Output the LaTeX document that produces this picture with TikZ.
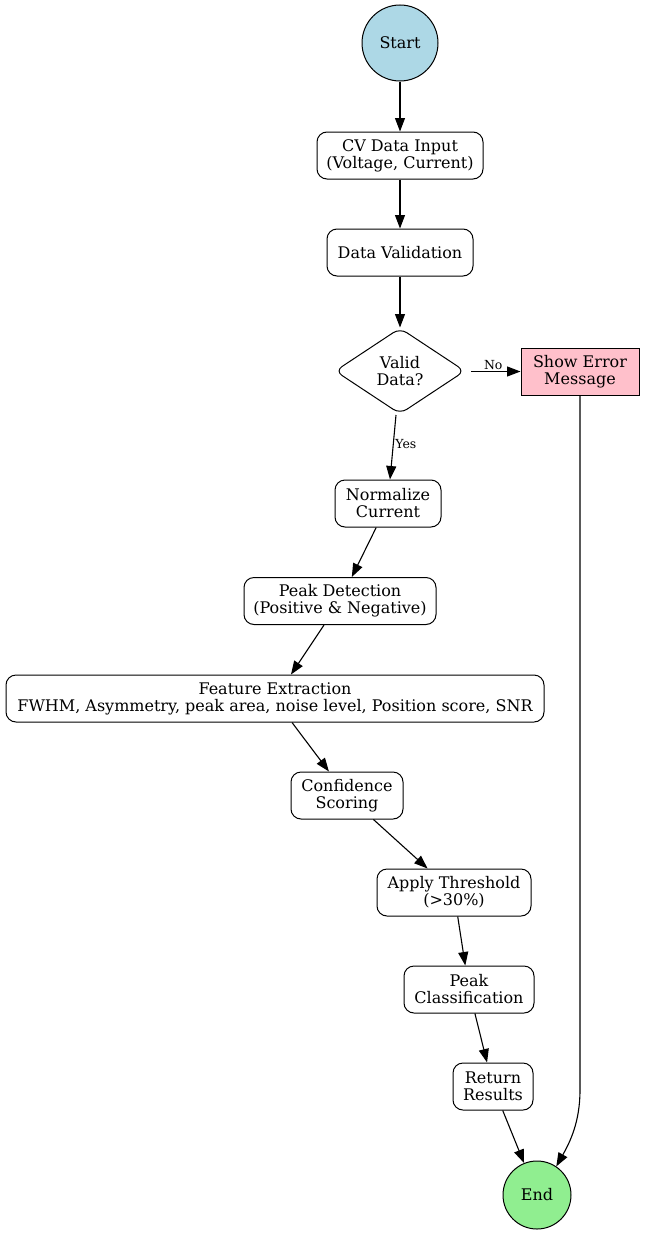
\documentclass[tikz,border=0pt]{standalone}
\usepackage{fontspec}
\setmainfont{DejaVu Serif}
\usetikzlibrary{shapes.geometric,arrows.meta}
\definecolor{startblue}{HTML}{ADD8E6}
\definecolor{endgreen}{HTML}{90EE90}
\definecolor{errpink}{HTML}{FFC0CB}
\tikzset{
  nfont/.style={font=\fontsize{16}{17}\selectfont},
  box/.style={draw, rounded corners=10pt, align=center, inner sep=0pt, line width=1pt, minimum height=47pt, nfont},
  term/.style={draw, circle, inner sep=0pt, line width=1pt, nfont},
  decision/.style={draw, diamond, rounded corners=8pt, align=center, inner sep=0pt, line width=1pt, minimum width=130pt, minimum height=86pt, nfont},
  errbox/.style={draw, fill=errpink, align=center, inner sep=0pt, line width=1pt, minimum width=118pt, minimum height=47pt, nfont},
  arr/.style={-{Triangle[length=13.5pt,width=10pt]}, line width=1.1pt},
  elabel/.style={font=\fontsize{12.5}{14}\selectfont, inner sep=1.5pt}
}
\begin{document}
\begin{tikzpicture}[x=1pt,y=-1pt]
\useasboundingbox (0,0) rectangle (645,1234);
\node[term, fill=startblue, minimum size=76pt] (start) at (400,43) {Start};
\node[box, minimum width=166pt] (cv) at (400,155.5) {CV Data Input\\(Voltage, Current)};
\node[box, minimum width=146pt] (dv) at (400,252.5) {Data Validation};
\node[decision] (valid) at (400,371) {Valid\\Data?};
\node[errbox] (err) at (580,371.5) {Show Error\\Message};
\node[box, minimum width=106pt] (norm) at (388,503.5) {Normalize\\Current};
\node[box, minimum width=192pt] (pd) at (340,601) {Peak Detection\\(Positive \& Negative)};
\node[box, minimum width=538pt] (fe) at (275,698.5) {Feature Extraction\\FWHM, Asymmetry, peak area, noise level, Position score, SNR};
\node[box, minimum width=112pt] (cs) at (347,795.5) {Confidence\\Scoring};
\node[box, minimum width=154pt] (at) at (454,892.5) {Apply Threshold\\(>30\%)};
\node[box, minimum width=130pt] (pc) at (469,989.5) {Peak\\Classification};
\node[box, minimum width=80pt] (rr) at (493,1086.5) {Return\\Results};
\node[term, fill=endgreen, minimum size=68pt] (end) at (537,1195) {End};
\coordinate (nostart) at (471,371.5);
\coordinate (yesstart) at (396,415);
\coordinate (bend) at (580,1090);

\draw[arr] (start) -- (cv);
\draw[arr] (cv) -- (dv);
\draw[arr] (dv) -- (valid);
\draw[arr] (nostart) -- node[elabel, above, pos=0.45] {No} (err.west);
\draw[arr] (yesstart) -- node[elabel, right, pos=0.45] {Yes} (norm.north -| 390,0);
\draw[arr] (norm) -- (pd);
\draw[arr] (pd) -- (fe);
\draw[arr] (fe.south -| 292,0) -- (cs);
\draw[arr] (cs) -- (at);
\draw[arr] (at) -- (pc);
\draw[arr] (pc) -- (rr);
\draw[arr] (rr) -- (end);
\draw[arr] (err.south) -- (bend) .. controls (580,1122) and (570,1142) .. (end.56);
\end{tikzpicture}
\end{document}
